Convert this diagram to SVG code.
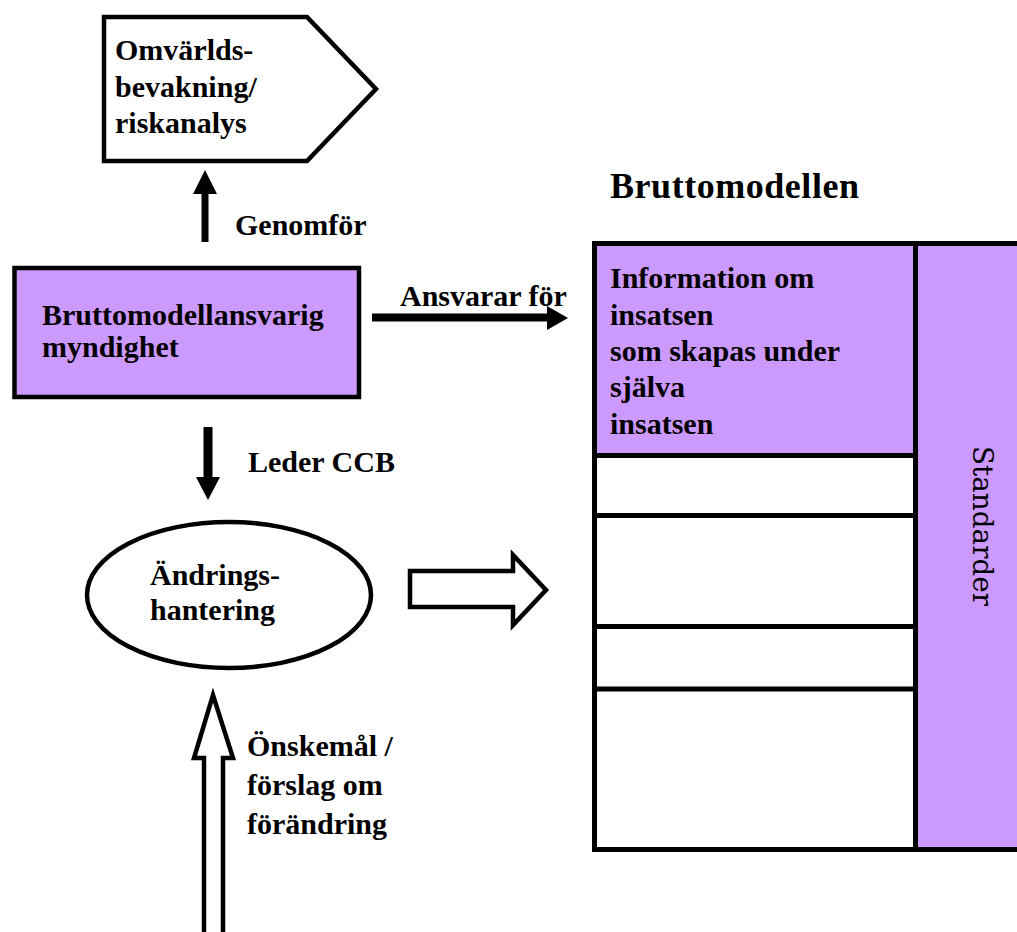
<svg xmlns="http://www.w3.org/2000/svg" width="1017" height="932" viewBox="0 0 1017 932">
  <style>
    .lbl { font-family: "Liberation Serif", "Times New Roman", serif; font-weight: bold; font-size: 30px; fill: #000; }
    .head { font-family: "Liberation Serif", "Times New Roman", serif; font-weight: bold; font-size: 36px; fill: #000; }
    .vert { font-family: "DejaVu Serif", "Liberation Serif", serif; font-size: 27px; fill: #000; }
    .shape { stroke: #000; stroke-width: 4.5; stroke-linejoin: miter; }
    .purple { fill: #cc99ff; }
    .white { fill: #ffffff; }
    .solid { fill: #000; stroke: none; }
    .hollow { fill: #fff; stroke: #000; stroke-width: 4.5; stroke-linejoin: miter; }
    .grid { stroke: #000; stroke-width: 5; fill: none; }
  </style>
  <rect width="1017" height="932" fill="#fff"/>

  <!-- Environment monitoring / risk analysis (pentagon) -->
  <g id="omvarld">
    <polygon class="shape white" points="104,17 307,17 376,89 307,161 104,161"/>
    <text class="lbl" x="115" y="60">Omvärlds-</text>
    <text class="lbl" x="115" y="97">bevakning/</text>
    <text class="lbl" x="115" y="133">riskanalys</text>
  </g>

  <!-- Responsible authority -->
  <g id="myndighet">
    <rect class="shape purple" x="14.5" y="268" width="344.5" height="129" stroke-width="5.5"/>
    <text class="lbl" x="42" y="325">Bruttomodellansvarig</text>
    <text class="lbl" x="42" y="357">myndighet</text>
  </g>

  <!-- Change management -->
  <g id="andringshantering">
    <ellipse class="shape white" cx="229" cy="595" rx="142" ry="73"/>
    <text class="lbl" x="150" y="585">Ändrings-</text>
    <text class="lbl" x="150" y="620">hantering</text>
  </g>

  <!-- Gross model panel -->
  <g id="bruttomodellen">
    <text class="head" x="610" y="198" textLength="249" lengthAdjust="spacing">Bruttomodellen</text>
    <rect class="purple" x="594.5" y="243.5" width="321" height="212"/>
    <rect class="white" x="594.5" y="455.5" width="321" height="394"/>
    <rect class="purple" x="915.5" y="243.5" width="110" height="606"/>
    <rect class="grid" x="594.5" y="243.5" width="430" height="606"/>
    <line class="grid" x1="915.5" y1="243.5" x2="915.5" y2="849.5"/>
    <line class="grid" x1="594.5" y1="455.5" x2="915.5" y2="455.5"/>
    <line class="grid" x1="594.5" y1="515.5" x2="915.5" y2="515.5"/>
    <line class="grid" x1="594.5" y1="626.5" x2="915.5" y2="626.5"/>
    <line class="grid" x1="594.5" y1="689" x2="915.5" y2="689"/>
    <text class="lbl" x="610" y="288">Information om</text>
    <text class="lbl" x="610" y="325">insatsen</text>
    <text class="lbl" x="610" y="361">som skapas under</text>
    <text class="lbl" x="610" y="397">själva</text>
    <text class="lbl" x="610" y="434">insatsen</text>
    <text class="vert" transform="translate(973,446) rotate(90)" textLength="160" lengthAdjust="spacingAndGlyphs">Standarder</text>
  </g>

  <!-- Connectors -->
  <g id="connectors">
    <!-- Genomför: up to the pentagon -->
    <rect class="solid" x="201.5" y="192" width="7" height="50"/>
    <polygon class="solid" points="193,194 217,194 205,170"/>
    <text class="lbl" x="235" y="235">Genomför</text>

    <!-- Ansvarar för: right to the panel -->
    <rect class="solid" x="372" y="313.5" width="176" height="8"/>
    <polygon class="solid" points="547,306 547,330 568,318"/>
    <text class="lbl" x="400" y="306">Ansvarar för</text>

    <!-- Leder CCB: down to change management -->
    <rect class="solid" x="203.5" y="427" width="9" height="51"/>
    <polygon class="solid" points="196,477 220,477 208,500"/>
    <text class="lbl" x="248" y="472">Leder CCB</text>

    <!-- Hollow arrow from change management to the panel -->
    <polygon class="hollow" points="410,571 513,571 513,555 546,590 513,625 513,607 410,607"/>

    <!-- Hollow arrow: requests coming in from below -->
    <polygon class="hollow" points="204,940 204,758 194,758 213,695 233,758 223,758 223,940"/>
    <text class="lbl" x="247" y="756">Önskemål /</text>
    <text class="lbl" x="247" y="795">förslag om</text>
    <text class="lbl" x="247" y="834">förändring</text>
  </g>
</svg>
